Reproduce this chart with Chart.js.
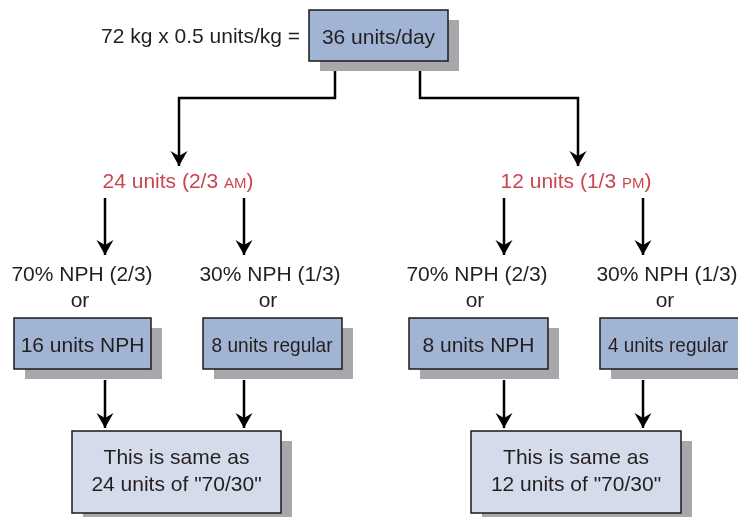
<!DOCTYPE html>
<html>
<head>
<meta charset="utf-8">
<script src="https://cdn.jsdelivr.net/npm/chart.js@4.4.1/dist/chart.umd.min.js"></script>
<style>
  html, body { margin: 0; padding: 0; background: #fff; }
  canvas { display: block; }
</style>
</head>
<body>
<canvas id="flow" width="738" height="517"></canvas>
<script>
// texts of the diagram
const formulaLabel = '72 kg x 0.5 units/kg =';
const totalLabel = '36 units/day';
const doseLabels = [['24 units (2/3 ', 'AM', ')'], ['12 units (1/3 ', 'PM', ')']];
const splitLabels = ['70% NPH (2/3)', '30% NPH (1/3)', '70% NPH (2/3)', '30% NPH (1/3)'];
const unitLabels = ['16 units NPH', '8 units regular', '8 units NPH', '4 units regular'];
const mixLabels = [['This is same as', '24 units of "70/30"'], ['This is same as', '12 units of "70/30"']];

// layout, in canvas units (x 0..738, y 0..517 from top)
const totalBox = [309, 448, 10, 61];
const doseX = [178, 576];
const branchX = [335, 420];
const branchTargetX = [179, 578];
const columnX = [105, 244, 504, 643];
const splitTextX = [82, 270, 477, 667];
const unitBoxX = [[14, 151], [203, 342], [409, 548], [600, 742]];
const unitTextX = [82.5, 272, 478.5, 668];
const unitTextMax = [130, 121, 130, 120];
const unitBoxY = [318, 369];
const mixBoxX = [[72, 281], [471, 681]];
const mixBoxY = [431, 513];

const FONT = '"Liberation Sans", Arial, Helvetica, sans-serif';
const INK = '#231f20';
const RED = '#c9464f';

// connector lines (each ends with an arrowhead)
const connectors = [];
branchX.forEach((x, i) => {
  connectors.push([{x: x, y: 71}, {x: x, y: 98}, {x: branchTargetX[i], y: 98}, {x: branchTargetX[i], y: 166}]);
});
columnX.forEach(x => connectors.push([{x: x, y: 198}, {x: x, y: 255}]));
columnX.forEach(x => connectors.push([{x: x, y: 380}, {x: x, y: 428}]));

function box(ctx, sx, sy, x0, x1, y0, y1, fill) {
  const l = sx.getPixelForValue(x0), r = sx.getPixelForValue(x1);
  const t = sy.getPixelForValue(y0), b = sy.getPixelForValue(y1);
  ctx.fillStyle = '#a7a8ab';
  ctx.fillRect(l + 11, t + 10, r - l, b - t);
  ctx.fillStyle = fill;
  ctx.fillRect(l, t, r - l, b - t);
  ctx.strokeStyle = '#1a1a1a';
  ctx.lineWidth = 1.5;
  ctx.strokeRect(l, t, r - l, b - t);
}

function text(ctx, sx, sy, str, x, y, align, maxW) {
  const px = sx.getPixelForValue(x), py = sy.getPixelForValue(y);
  ctx.fillStyle = INK;
  ctx.textAlign = align || 'center';
  ctx.textBaseline = 'alphabetic';
  const w = ctx.measureText(str).width;
  if (maxW && w > maxW) {
    // squeeze horizontally only, like the condensed labels in the original
    ctx.save();
    ctx.translate(px, py);
    ctx.scale(maxW / w, 1);
    ctx.fillText(str, 0, 0);
    ctx.restore();
  } else {
    ctx.fillText(str, px, py);
  }
}

const flowPlugin = {
  id: 'flow',
  beforeDatasetsDraw(chart) {
    const {ctx, scales: {x: sx, y: sy}} = chart;
    ctx.save();
    box(ctx, sx, sy, totalBox[0], totalBox[1], totalBox[2], totalBox[3], '#a2b4d4');
    unitBoxX.forEach(b => box(ctx, sx, sy, b[0], b[1], unitBoxY[0], unitBoxY[1], '#a2b4d4'));
    mixBoxX.forEach(b => box(ctx, sx, sy, b[0], b[1], mixBoxY[0], mixBoxY[1], '#d4dbea'));
    ctx.restore();
  },
  afterDatasetsDraw(chart) {
    const {ctx, scales: {x: sx, y: sy}} = chart;
    ctx.save();
    // arrowheads
    chart.data.datasets.forEach((ds, i) => {
      const pts = chart.getDatasetMeta(i).data;
      const p = pts[pts.length - 1];
      ctx.fillStyle = '#000';
      ctx.beginPath();
      ctx.moveTo(p.x, p.y);
      ctx.lineTo(p.x - 8.5, p.y - 15);
      ctx.lineTo(p.x, p.y - 10);
      ctx.lineTo(p.x + 8.5, p.y - 15);
      ctx.closePath();
      ctx.fill();
    });

    ctx.font = '21px ' + FONT;
    text(ctx, sx, sy, formulaLabel, 300, 43, 'right');
    text(ctx, sx, sy, totalLabel, (totalBox[0] + totalBox[1]) / 2, 44);

    // red dose lines with small-caps AM / PM
    doseLabels.forEach((parts, i) => {
      ctx.font = '21px ' + FONT;
      const w0 = ctx.measureText(parts[0]).width;
      const w2 = ctx.measureText(parts[2]).width;
      ctx.font = '15px ' + FONT;
      const w1 = ctx.measureText(parts[1]).width;
      let x = sx.getPixelForValue(doseX[i]) - (w0 + w1 + w2) / 2;
      const y = sy.getPixelForValue(188);
      ctx.fillStyle = RED;
      ctx.textAlign = 'left';
      ctx.textBaseline = 'alphabetic';
      ctx.font = '21px ' + FONT;
      ctx.fillText(parts[0], x, y);
      x += w0;
      ctx.font = '15px ' + FONT;
      ctx.fillText(parts[1], x, y);
      x += w1;
      ctx.font = '21px ' + FONT;
      ctx.fillText(parts[2], x, y);
    });

    ctx.font = '21px ' + FONT;
    splitLabels.forEach((s, i) => {
      text(ctx, sx, sy, s, splitTextX[i], 281);
      text(ctx, sx, sy, 'or', splitTextX[i] - 2, 307);
    });
    unitLabels.forEach((s, i) => {
      text(ctx, sx, sy, s, unitTextX[i], 352, 'center', unitTextMax[i]);
    });
    mixLabels.forEach((lines, i) => {
      const cx = (mixBoxX[i][0] + mixBoxX[i][1]) / 2;
      text(ctx, sx, sy, lines[0], cx, 464);
      text(ctx, sx, sy, lines[1], cx, 491);
    });
    ctx.restore();
  }
};

new Chart(document.getElementById('flow').getContext('2d'), {
  type: 'scatter',
  data: {
    datasets: connectors.map(pts => ({
      data: pts,
      showLine: true,
      borderColor: '#000',
      borderWidth: 2.5,
      pointRadius: 0,
      tension: 0,
      clip: false
    }))
  },
  options: {
    responsive: false,
    animation: false,
    events: [],
    layout: { padding: 0 },
    plugins: { legend: { display: false }, tooltip: { enabled: false } },
    scales: {
      x: { type: 'linear', min: 0, max: 738, display: false },
      y: { type: 'linear', min: 0, max: 517, reverse: true, display: false }
    }
  },
  plugins: [flowPlugin]
});
</script>
</body>
</html>
